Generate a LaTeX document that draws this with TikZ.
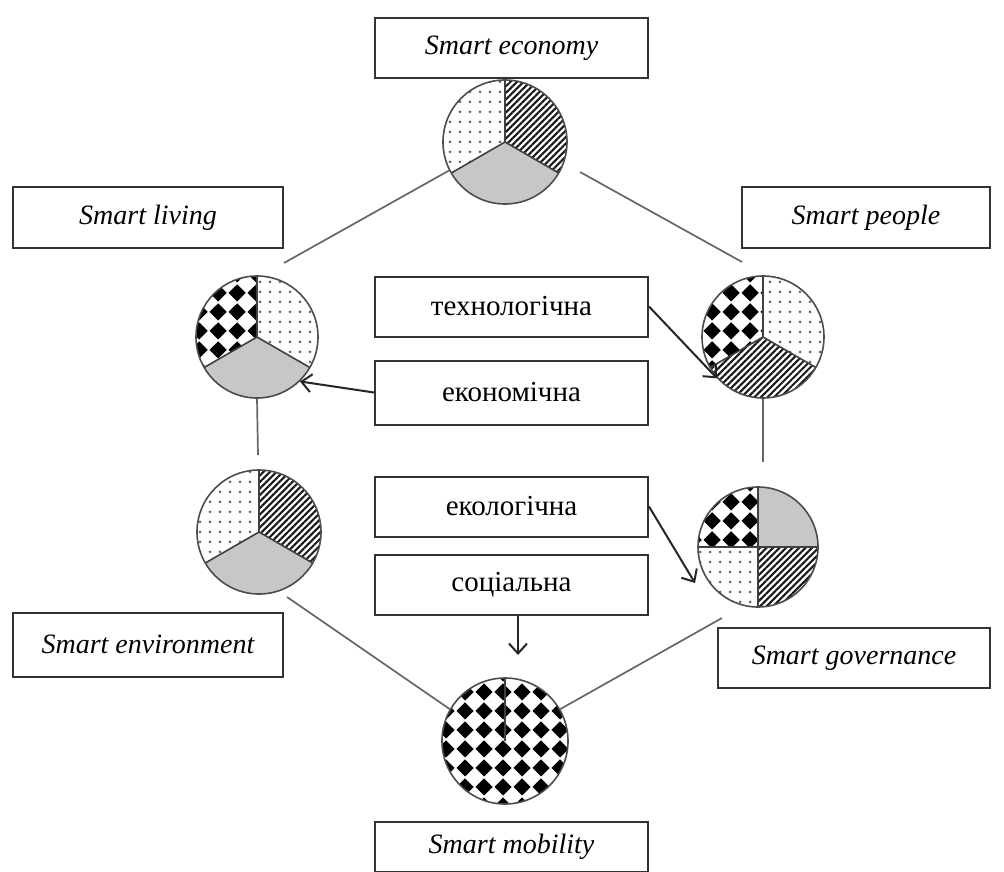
\documentclass[tikz,border=0pt]{standalone}
\usepackage{fontspec}
\setmainfont{Liberation Serif}
\usetikzlibrary{patterns.meta,arrows.meta}
\tikzdeclarepattern{
  name=diamonds,
  type=uncolored,
  bottom left={(0pt,0pt)},
  top right={(19pt,19pt)},
  tile size={(19pt,19pt)},
  code={\fill (9.5pt,0.6pt) -- (18.4pt,9.5pt) -- (9.5pt,18.4pt) -- (0.6pt,9.5pt) -- cycle;}
}
\newcommand{\myslice}[5]{\path[#5] (#1) -- ++(#2:#4) arc[start angle=#2,end angle=#3,radius=#4] -- cycle;}
\newcommand{\mysep}[3]{\draw[sepline] (#1) -- ++(#2:#3);}
\begin{document}
\begin{tikzpicture}[x=1pt,y=1pt,
  lbl/.style={draw=black!80, line width=2pt, fill=white, inner sep=0pt, font=\fontsize{28}{32}\selectfont\itshape},
  cyr/.style={draw=black!80, line width=2pt, fill=white, inner sep=0pt, minimum width=273pt, minimum height=60pt, font=\fontsize{29}{33}\selectfont},
  conn/.style={draw=black!60, line width=1.7pt},
  arr/.style={draw=black!85, line width=2pt, -{Straight Barb[length=10pt,width=18pt,line width=2pt]}},
  pie/.style={circle, draw=black!70, line width=1.6pt, inner sep=0pt},
  sepline/.style={draw=black!75, line width=1.6pt},
  dotsf/.style={pattern={Dots[distance=10pt,radius=1.5pt]}, pattern color=black!60},
  greyf/.style={fill=black!22},
  hatchf/.style={pattern={Lines[angle=45,distance=4.6pt,line width=2.1pt]}, pattern color=black!90},
  checkf/.style={pattern=diamonds, pattern color=black}
]
\fill[white] (0,0) rectangle (1004,-872);
\useasboundingbox (0,0) rectangle (1004,-872);

% pie centres
\coordinate (cE) at (505,-142);
\coordinate (cL) at (257,-337);
\coordinate (cP) at (763,-337);
\coordinate (cV) at (259,-532);
\coordinate (cG) at (758,-547);
\coordinate (cM) at (505,-741);

% Economy
\myslice{cE}{90}{210}{62pt}{dotsf}
\myslice{cE}{210}{330}{62pt}{greyf}
\myslice{cE}{-30}{90}{62pt}{hatchf}
\mysep{cE}{90}{62pt}\mysep{cE}{210}{62pt}\mysep{cE}{330}{62pt}
\node[pie, minimum size=124pt] (pE) at (cE) {};

% Living
\myslice{cL}{90}{210}{61pt}{checkf}
\myslice{cL}{210}{330}{61pt}{greyf}
\myslice{cL}{-30}{90}{61pt}{dotsf}
\mysep{cL}{90}{61pt}\mysep{cL}{210}{61pt}\mysep{cL}{330}{61pt}
\node[pie, minimum size=122pt] (pL) at (cL) {};

% People
\myslice{cP}{90}{210}{61pt}{checkf}
\myslice{cP}{210}{330}{61pt}{hatchf}
\myslice{cP}{-30}{90}{61pt}{dotsf}
\mysep{cP}{90}{61pt}\mysep{cP}{210}{61pt}\mysep{cP}{330}{61pt}
\node[pie, minimum size=122pt] (pP) at (cP) {};

% Environment
\myslice{cV}{90}{210}{62pt}{dotsf}
\myslice{cV}{210}{330}{62pt}{greyf}
\myslice{cV}{-30}{90}{62pt}{hatchf}
\mysep{cV}{90}{62pt}\mysep{cV}{210}{62pt}\mysep{cV}{330}{62pt}
\node[pie, minimum size=124pt] (pV) at (cV) {};

% Governance
\myslice{cG}{90}{180}{60pt}{checkf}
\myslice{cG}{0}{90}{60pt}{greyf}
\myslice{cG}{180}{270}{60pt}{dotsf}
\myslice{cG}{270}{360}{60pt}{hatchf}
\mysep{cG}{0}{60pt}\mysep{cG}{90}{60pt}\mysep{cG}{180}{60pt}\mysep{cG}{270}{60pt}
\node[pie, minimum size=120pt] (pG) at (cG) {};

% Mobility
\myslice{cM}{0}{360}{63pt}{checkf}
\mysep{cM}{90}{63pt}
\node[pie, minimum size=126pt] (pM) at (cM) {};

% label boxes
\node[lbl, minimum width=273pt, minimum height=60pt] (bE) at (511.5,-48) {Smart economy};
\node[lbl, minimum width=270pt, minimum height=61pt] (bL) at (148,-217.5) {Smart living};
\node[lbl, minimum width=248pt, minimum height=61pt] (bP) at (866,-217.5) {Smart people};
\node[lbl, minimum width=270pt, minimum height=64pt] (bV) at (148,-644.5) {Smart environment};
\node[lbl, minimum width=272pt, minimum height=60pt] (bG) at (854,-658) {Smart governance};
\node[lbl, minimum width=273pt, minimum height=50pt] (bM) at (511.5,-847) {Smart mobility};

\node[cyr] (bT) at (511.5,-306.5) {технологічна};
\node[cyr, minimum height=64pt] (bK) at (511.5,-392.5) {економічна};
\node[cyr] (bO) at (511.5,-506.5) {екологічна};
\node[cyr] (bS) at (511.5,-584.5) {соціальна};

% free ends
\coordinate (eLt) at (284,-263);
\coordinate (eRt) at (742,-262);
\coordinate (sRt) at (580,-172);
\coordinate (eLb) at (258,-455);
\coordinate (eRb) at (763,-462);
\coordinate (sVM) at (287,-597);
\coordinate (sGM) at (722,-618);
\coordinate (aO) at (695,-583);
\coordinate (aS) at (518,-655);

% connectors
\draw[conn] (pE.207) -- (eLt);
\draw[conn] (sRt) -- (eRt);
\draw[conn] (pL.south) -- (eLb);
\draw[conn] (pP.south) -- (eRb);
\draw[conn] (sVM) -- (pM.150);
\draw[conn] (sGM) -- (pM.30);

% arrows
\draw[arr] (bT.east) -- (pP.222);
\draw[arr] (bK.west) -- (pL.-46);
\draw[arr] (bO.east) -- (aO);
\draw[arr] (bS.south -| aS) -- (aS);
\end{tikzpicture}
\end{document}
